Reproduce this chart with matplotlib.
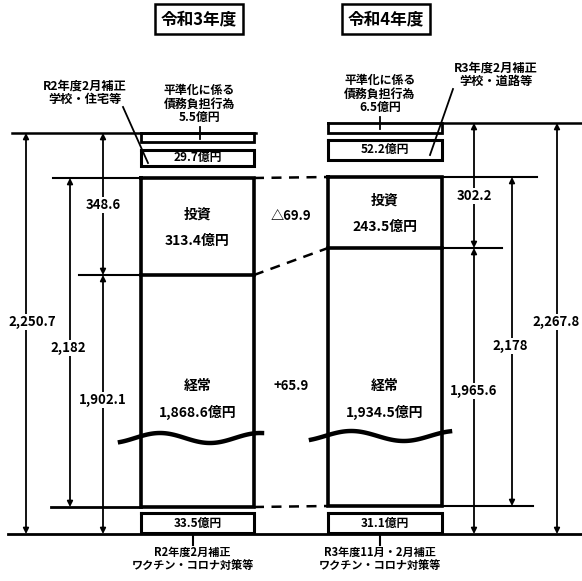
import numpy as np
import matplotlib.pyplot as plt

plt.rcParams['font.family'] = ['Noto Sans CJK JP', 'DejaVu Sans']

# data (億円)
years = ['令和3年度', '令和4年度']
debt_burden = [5.5, 6.5]          # 平準化に係る債務負担行為
feb_supplement = [29.7, 52.2]     # 2月補正 学校・住宅/道路等
investment = [313.4, 243.5]       # 投資
ordinary = [1868.6, 1934.5]       # 経常
covid = [33.5, 31.1]              # ワクチン・コロナ対策等
supp_top_labels = ['R2年度2月補正\n学校・住宅等', 'R3年度2月補正\n学校・道路等']
supp_bottom_labels = ['R2年度2月補正\nワクチン・コロナ対策等', 'R3年度11月・2月補正\nワクチン・コロナ対策等']
total_dims = ['2,250.7', '2,267.8']
main_dims = ['2,182', '2,178']
upper_dims = ['348.6', '302.2']
lower_dims = ['1,902.1', '1,965.6']
diff_labels = ['△69.9', '+65.9']

# layout (pixels, y downward)
W, H = 582, 581
box_x = [(141, 254), (328, 442)]
title_x = [199, 386]
y_top = [133, 123]
thin_box = [(133, 142), (123, 133)]
supp_box = [(150, 166), (140, 160)]
main_top = [178, 177]
divider = [275, 248]
main_bot = [507, 506]
covid_box = [(513, 533), (513, 533)]
baseline = 534

fig = plt.figure(figsize=(W / 100, H / 100), dpi=100)
ax = fig.add_axes([0, 0, 1, 1])
ax.set_xlim(0, W)
ax.set_ylim(H, 0)
ax.axis('off')

K = 'black'
bold = dict(fontweight='bold', color=K)


def rect(x0, x1, y0, y1, lw=2.2):
    ax.plot([x0, x1, x1, x0, x0], [y0, y0, y1, y1, y0], color=K, lw=lw,
            solid_joinstyle='miter')


def dim(x, y0, y1, label, ty, fs=9.5, tx=None):
    ax.annotate('', xy=(x, y1), xytext=(x, y0),
                arrowprops=dict(arrowstyle='<|-|>', color=K, lw=1.3,
                                mutation_scale=8, shrinkA=0, shrinkB=0))
    ax.text(x if tx is None else tx, ty, label, ha='center', va='center',
            fontsize=fs, bbox=dict(fc='white', ec='none', pad=1.0), **bold)


for i in range(2):
    x0, x1 = box_x[i]
    xc = (x0 + x1) / 2
    # title box
    ax.text(title_x[i], 19, years[i], ha='center', va='center', fontsize=12,
            bbox=dict(fc='white', ec=K, lw=1.8, boxstyle='square,pad=0.35'), **bold)
    # stacked boxes
    rect(x0, x1, *thin_box[i], lw=2.0)
    rect(x0, x1, *supp_box[i])
    ax.text(xc, sum(supp_box[i]) / 2, f'{feb_supplement[i]}億円', ha='center',
            va='center', fontsize=8.5, **bold)
    rect(x0, x1, main_top[i], main_bot[i], lw=2.6)
    ax.plot([x0, x1], [divider[i]] * 2, color=K, lw=2.6)
    rect(x0, x1, *covid_box[i])
    ax.text(xc, sum(covid_box[i]) / 2, f'{covid[i]}億円', ha='center',
            va='center', fontsize=8.5, **bold)
    # labels inside
    inv_mid = (main_top[i] + divider[i]) / 2
    ax.text(xc, inv_mid - 12, '投資', ha='center', va='center', fontsize=10, **bold)
    ax.text(xc, inv_mid + 14, f'{investment[i]}億円', ha='center', va='center',
            fontsize=10, **bold)
    ax.text(xc, 386, '経常', ha='center', va='center', fontsize=10, **bold)
    ax.text(xc, 412, f'{ordinary[i]:,.1f}億円', ha='center', va='center',
            fontsize=10, **bold)
    # debt burden note
    nx = xc + (2 if i == 0 else -5)
    ax.text(nx, thin_box[i][0] - 29,
            f'平準化に係る\n債務負担行為\n{debt_burden[i]}億円', ha='center',
            va='center', fontsize=8.6, linespacing=1.05, **bold)
    ax.plot([nx] * 2, [thin_box[i][0] - 6, thin_box[i][0] + 6], color=K, lw=1.3)
    # bottom note
    ax.text(xc - 5, 559, supp_bottom_labels[i], ha='center', va='center',
            fontsize=8.0, linespacing=1.1, **bold)
    ax.plot([xc - 5] * 2, [baseline, 545], color=K, lw=1.5)

# supplement notes at top
ax.text(85, 93, supp_top_labels[0], ha='center', va='center', fontsize=8.8,
        linespacing=1.05, **bold)
ax.plot([123, 148], [107, 163], color=K, lw=1.3)
ax.text(496, 75, supp_top_labels[1], ha='center', va='center', fontsize=8.8,
        linespacing=1.05, **bold)
ax.plot([453, 430], [89, 155], color=K, lw=1.3)

# reference lines
ax.plot([12, 256], [y_top[0]] * 2, color=K, lw=1.8)
ax.plot([442, 582], [y_top[1]] * 2, color=K, lw=1.8)
ax.plot([8, 582], [baseline] * 2, color=K, lw=2.0)
ax.plot([53, 141], [main_top[0]] * 2, color=K, lw=1.5)
ax.plot([79, 141], [divider[0]] * 2, color=K, lw=1.5)
ax.plot([51, 141], [main_bot[0]] * 2, color=K, lw=2.0)
ax.plot([442, 537], [main_top[1]] * 2, color=K, lw=1.5)
ax.plot([442, 502], [divider[1]] * 2, color=K, lw=1.5)
ax.plot([442, 533], [main_bot[1]] * 2, color=K, lw=1.5)

# dashed connectors
ax.plot([254, 328], [main_top[0], main_top[1]], color=K, lw=1.8, ls=(0, (4, 3)))
ax.plot([254, 328], [divider[0], divider[1]], color=K, lw=1.8, ls=(0, (4, 3)))
ax.plot([254, 328], [main_bot[0], main_bot[1]], color=K, lw=1.8, ls=(0, (4, 3)))

# dimension arrows, left
dim(26, y_top[0], baseline, total_dims[0], 322, tx=32)
dim(70, main_top[0], main_bot[0], main_dims[0], 348, tx=68)
dim(103, y_top[0], divider[0], upper_dims[0], 205)
dim(103, divider[0], baseline, lower_dims[0], 400)
# dimension arrows, right
dim(474, y_top[1], divider[1], upper_dims[1], 196)
dim(474, divider[1], baseline, lower_dims[1], 391)
dim(512, main_top[1], main_bot[1], main_dims[1], 346, tx=510)
dim(557, y_top[1], baseline, total_dims[1], 322, tx=556)

# differences
ax.text(291, 216, diff_labels[0], ha='center', va='center', fontsize=9.5, **bold)
ax.text(291, 386, diff_labels[1], ha='center', va='center', fontsize=9.5, **bold)

# wavy break marks
xs = np.linspace(120, 262, 80)
ax.plot(xs, 438 - 5 * np.sin(2 * np.pi * (xs - 135) / 100), color=K, lw=3.2)
xs = np.linspace(311, 450, 80)
ax.plot(xs, 436 - 5 * np.sin(2 * np.pi * (xs - 325) / 105), color=K, lw=3.2)

fig.savefig('out.png', dpi=100)
